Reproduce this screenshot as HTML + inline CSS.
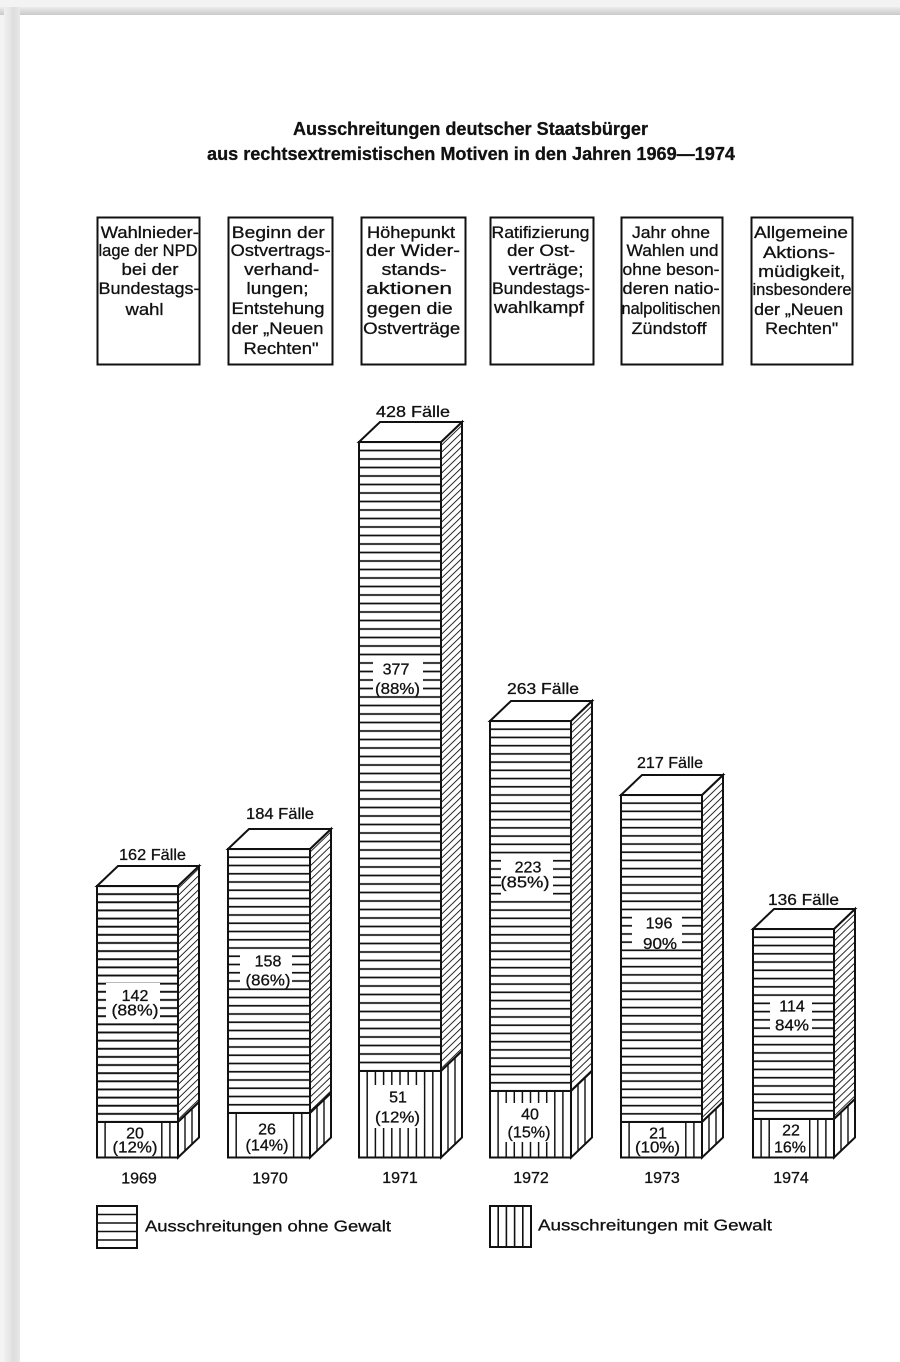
<!DOCTYPE html>
<html><head><meta charset="utf-8"><style>
html,body{margin:0;padding:0;background:#f2f2f2;}
svg{display:block;}
text{font-family:"Liberation Sans",Arial,sans-serif;fill:#111;stroke:#111;stroke-width:0.3;}
</style></head><body>
<svg width="900" height="1362" viewBox="0 0 900 1362" xmlns="http://www.w3.org/2000/svg">
<defs>
<linearGradient id="tg" x1="0" y1="0" x2="0" y2="1"><stop offset="0" stop-color="#ececec"/><stop offset="1" stop-color="#c9c9c9"/></linearGradient>
<linearGradient id="lg" x1="0" y1="0" x2="1" y2="0"><stop offset="0" stop-color="#f0f0f0"/><stop offset="0.6" stop-color="#dedede"/><stop offset="1" stop-color="#e8e8e8"/></linearGradient>
<pattern id="dg" patternUnits="userSpaceOnUse" width="20" height="7" patternTransform="skewY(-44)"><rect width="20" height="7" fill="#fff"/><line x1="0" y1="3.5" x2="20" y2="3.5" stroke="#111" stroke-width="1.3"/></pattern>
<pattern id="hz1" patternUnits="userSpaceOnUse" x="0" y="881.931" width="20" height="8.138"><rect width="20" height="8.138" fill="#fff"/><line x1="0" y1="4.069" x2="20" y2="4.069" stroke="#111" stroke-width="1.8"/></pattern>
<pattern id="hz2" patternUnits="userSpaceOnUse" x="0" y="844.875" width="20" height="8.25"><rect width="20" height="8.25" fill="#fff"/><line x1="0" y1="4.125" x2="20" y2="4.125" stroke="#111" stroke-width="1.8"/></pattern>
<pattern id="hz3" patternUnits="userSpaceOnUse" x="0" y="437.75" width="20" height="8.5"><rect width="20" height="8.5" fill="#fff"/><line x1="0" y1="4.25" x2="20" y2="4.25" stroke="#111" stroke-width="1.8"/></pattern>
<pattern id="hz4" patternUnits="userSpaceOnUse" x="0" y="716.889" width="20" height="8.222"><rect width="20" height="8.222" fill="#fff"/><line x1="0" y1="4.111" x2="20" y2="4.111" stroke="#111" stroke-width="1.8"/></pattern>
<pattern id="hz5" patternUnits="userSpaceOnUse" x="0" y="790.9125" width="20" height="8.175"><rect width="20" height="8.175" fill="#fff"/><line x1="0" y1="4.0875" x2="20" y2="4.0875" stroke="#111" stroke-width="1.8"/></pattern>
<pattern id="hz6" patternUnits="userSpaceOnUse" x="0" y="924.870" width="20" height="8.261"><rect width="20" height="8.261" fill="#fff"/><line x1="0" y1="4.130" x2="20" y2="4.130" stroke="#111" stroke-width="1.8"/></pattern>
<pattern id="vt1" patternUnits="userSpaceOnUse" x="92.95" y="0" width="8.1" height="20"><rect width="8.1" height="20" fill="#fff"/><line x1="4.05" y1="0" x2="4.05" y2="20" stroke="#111" stroke-width="1.5"/></pattern>
<pattern id="vt2" patternUnits="userSpaceOnUse" x="223.9" y="0" width="8.2" height="20"><rect width="8.2" height="20" fill="#fff"/><line x1="4.1" y1="0" x2="4.1" y2="20" stroke="#111" stroke-width="1.5"/></pattern>
<pattern id="vt3" patternUnits="userSpaceOnUse" x="354.9" y="0" width="8.2" height="20"><rect width="8.2" height="20" fill="#fff"/><line x1="4.1" y1="0" x2="4.1" y2="20" stroke="#111" stroke-width="1.5"/></pattern>
<pattern id="vt4" patternUnits="userSpaceOnUse" x="485.95" y="0" width="8.1" height="20"><rect width="8.1" height="20" fill="#fff"/><line x1="4.05" y1="0" x2="4.05" y2="20" stroke="#111" stroke-width="1.5"/></pattern>
<pattern id="vt5" patternUnits="userSpaceOnUse" x="616.95" y="0" width="8.1" height="20"><rect width="8.1" height="20" fill="#fff"/><line x1="4.05" y1="0" x2="4.05" y2="20" stroke="#111" stroke-width="1.5"/></pattern>
<pattern id="vt6" patternUnits="userSpaceOnUse" x="748.95" y="0" width="8.1" height="20"><rect width="8.1" height="20" fill="#fff"/><line x1="4.05" y1="0" x2="4.05" y2="20" stroke="#111" stroke-width="1.5"/></pattern>
</defs>

<!-- page frame -->
<rect x="0" y="0" width="900" height="1362" fill="#f3f3f3"/>
<rect x="0" y="7" width="900" height="8" fill="url(#tg)"/>
<rect x="4" y="7" width="16" height="1355" fill="url(#lg)"/>
<rect x="20" y="15" width="880" height="1347" fill="#fff"/>

<!-- title -->
<text x="470.5" y="135" text-anchor="middle" font-size="18" font-weight="bold" textLength="355" lengthAdjust="spacingAndGlyphs">Ausschreitungen deutscher Staatsbürger</text>
<text x="471" y="160" text-anchor="middle" font-size="18" font-weight="bold" textLength="528" lengthAdjust="spacingAndGlyphs">aus rechtsextremistischen Motiven in den Jahren 1969—1974</text>

<!-- boxes -->
<g fill="none" stroke="#111" stroke-width="2">
<rect x="97.5" y="217.5" width="102" height="147"/>
<rect x="228.5" y="217.5" width="104" height="147"/>
<rect x="361.5" y="217.5" width="104" height="147"/>
<rect x="490.5" y="217.5" width="103" height="147"/>
<rect x="621.5" y="217.5" width="101" height="147"/>
<rect x="751.5" y="217.5" width="101" height="147"/>
</g>
<g font-size="16.5" text-anchor="middle">
<text x="149.8" y="238" textLength="98" lengthAdjust="spacingAndGlyphs">Wahlnieder-</text>
<text x="148" y="256" textLength="99" lengthAdjust="spacingAndGlyphs">lage der NPD</text>
<text x="150" y="275" textLength="57" lengthAdjust="spacingAndGlyphs">bei der</text>
<text x="149" y="294" textLength="101" lengthAdjust="spacingAndGlyphs">Bundestags-</text>
<text x="144.5" y="315" textLength="38" lengthAdjust="spacingAndGlyphs">wahl</text>

<text x="278.3" y="238" textLength="93" lengthAdjust="spacingAndGlyphs">Beginn der</text>
<text x="280.7" y="256" textLength="100" lengthAdjust="spacingAndGlyphs">Ostvertrags-</text>
<text x="281.7" y="275" textLength="75" lengthAdjust="spacingAndGlyphs">verhand-</text>
<text x="277.5" y="294" textLength="62" lengthAdjust="spacingAndGlyphs">lungen;</text>
<text x="278" y="314" textLength="93" lengthAdjust="spacingAndGlyphs">Entstehung</text>
<text x="277.5" y="334" textLength="92" lengthAdjust="spacingAndGlyphs">der „Neuen</text>
<text x="281" y="354" textLength="75" lengthAdjust="spacingAndGlyphs">Rechten"</text>

<text x="411" y="238" textLength="88" lengthAdjust="spacingAndGlyphs">Höhepunkt</text>
<text x="413" y="256" textLength="94" lengthAdjust="spacingAndGlyphs">der Wider-</text>
<text x="414" y="275" textLength="65" lengthAdjust="spacingAndGlyphs">stands-</text>
<text x="409" y="294" textLength="86" lengthAdjust="spacingAndGlyphs">aktionen</text>
<text x="409.7" y="314" textLength="86" lengthAdjust="spacingAndGlyphs">gegen die</text>
<text x="411.7" y="334" textLength="97" lengthAdjust="spacingAndGlyphs">Ostverträge</text>

<text x="540.5" y="238" textLength="98" lengthAdjust="spacingAndGlyphs">Ratifizierung</text>
<text x="541" y="256" textLength="68" lengthAdjust="spacingAndGlyphs">der Ost-</text>
<text x="546" y="275" textLength="75" lengthAdjust="spacingAndGlyphs">verträge;</text>
<text x="541" y="294" textLength="98" lengthAdjust="spacingAndGlyphs">Bundestags-</text>
<text x="539" y="313" textLength="90" lengthAdjust="spacingAndGlyphs">wahlkampf</text>

<text x="671" y="238" textLength="78" lengthAdjust="spacingAndGlyphs">Jahr ohne</text>
<text x="672.5" y="256" textLength="92" lengthAdjust="spacingAndGlyphs">Wahlen und</text>
<text x="671" y="275" textLength="97" lengthAdjust="spacingAndGlyphs">ohne beson-</text>
<text x="671" y="294" textLength="97" lengthAdjust="spacingAndGlyphs">deren natio-</text>
<text x="671" y="314" textLength="99" lengthAdjust="spacingAndGlyphs">nalpolitischen</text>
<text x="669" y="334" textLength="75" lengthAdjust="spacingAndGlyphs">Zündstoff</text>

<text x="801" y="238" textLength="94" lengthAdjust="spacingAndGlyphs">Allgemeine</text>
<text x="799" y="258" textLength="72" lengthAdjust="spacingAndGlyphs">Aktions-</text>
<text x="801.7" y="277" textLength="87" lengthAdjust="spacingAndGlyphs">müdigkeit,</text>
<text x="802" y="295" textLength="99" lengthAdjust="spacingAndGlyphs">insbesondere</text>
<text x="798.7" y="315" textLength="89" lengthAdjust="spacingAndGlyphs">der „Neuen</text>
<text x="801.7" y="334" textLength="73" lengthAdjust="spacingAndGlyphs">Rechten"</text>
</g>

<!-- ===== BARS ===== -->
<g stroke="#111" stroke-linejoin="miter">
<!-- Bar 1 -->
<rect x="97" y="886" width="81" height="236" fill="url(#hz1)" stroke="none"/>
<rect x="97" y="1122" width="81" height="35.5" fill="url(#vt1)" stroke="none"/>
<rect x="106" y="983" width="54" height="36" fill="#fff" stroke="none"/>
<rect x="106" y="1123" width="55" height="34" fill="#fff" stroke="none"/>
<polygon points="178,886 199,866 199,1102 178,1122" fill="url(#dg)" stroke-width="2"/>
<polygon points="178,1122 199,1102 199,1137.5 178,1157.5" fill="#fff" stroke-width="2"/>
<line x1="185" y1="1115.3" x2="185" y2="1150.8" stroke-width="1.4"/>
<line x1="192" y1="1108.7" x2="192" y2="1144.2" stroke-width="1.4"/>
<polygon points="97,886 118,866 199,866 178,886" fill="#fff" stroke-width="2"/>
<rect x="97" y="886" width="81" height="271.5" fill="none" stroke-width="2"/>
<line x1="97" y1="1122" x2="178" y2="1122" stroke-width="2"/>

<!-- Bar 2 -->
<rect x="228" y="849" width="82" height="264" fill="url(#hz2)" stroke="none"/>
<rect x="228" y="1113" width="82" height="44.5" fill="url(#vt2)" stroke="none"/>
<rect x="240" y="950" width="52" height="37" fill="#fff" stroke="none"/>
<rect x="237.2" y="1114" width="55.4" height="43" fill="#fff" stroke="none"/>
<polygon points="310,849 331,829 331,1093 310,1113" fill="url(#dg)" stroke-width="2"/>
<polygon points="310,1113 331,1093 331,1137.5 310,1157.5" fill="#fff" stroke-width="2"/>
<line x1="317" y1="1106.3" x2="317" y2="1150.8" stroke-width="1.4"/>
<line x1="324" y1="1099.7" x2="324" y2="1144.2" stroke-width="1.4"/>
<polygon points="228,849 249,829 331,829 310,849" fill="#fff" stroke-width="2"/>
<rect x="228" y="849" width="82" height="308.5" fill="none" stroke-width="2"/>
<line x1="228" y1="1113" x2="310" y2="1113" stroke-width="2"/>

<!-- Bar 3 -->
<rect x="359" y="442" width="82" height="629" fill="url(#hz3)" stroke="none"/>
<rect x="359" y="1071" width="82" height="86.5" fill="url(#vt3)" stroke="none"/>
<rect x="373" y="656" width="50" height="39" fill="#fff" stroke="none"/>
<rect x="368.2" y="1085" width="55.4" height="43" fill="#fff" stroke="none"/>
<polygon points="441,442 462,422 462,1051 441,1071" fill="url(#dg)" stroke-width="2"/>
<polygon points="441,1071 462,1051 462,1137.5 441,1157.5" fill="#fff" stroke-width="2"/>
<line x1="448" y1="1064.3" x2="448" y2="1150.8" stroke-width="1.4"/>
<line x1="455" y1="1057.7" x2="455" y2="1144.2" stroke-width="1.4"/>
<polygon points="359,442 380,422 462,422 441,442" fill="#fff" stroke-width="2"/>
<rect x="359" y="442" width="82" height="715.5" fill="none" stroke-width="2"/>
<line x1="359" y1="1071" x2="441" y2="1071" stroke-width="2"/>

<!-- Bar 4 -->
<rect x="490" y="721" width="81" height="370" fill="url(#hz4)" stroke="none"/>
<rect x="490" y="1091" width="81" height="66.5" fill="url(#vt4)" stroke="none"/>
<rect x="501" y="857" width="52" height="39" fill="#fff" stroke="none"/>
<rect x="499" y="1103" width="55" height="39" fill="#fff" stroke="none"/>
<polygon points="571,721 592,701 592,1071 571,1091" fill="url(#dg)" stroke-width="2"/>
<polygon points="571,1091 592,1071 592,1137.5 571,1157.5" fill="#fff" stroke-width="2"/>
<line x1="578" y1="1084.3" x2="578" y2="1150.8" stroke-width="1.4"/>
<line x1="585" y1="1077.7" x2="585" y2="1144.2" stroke-width="1.4"/>
<polygon points="490,721 511,701 592,701 571,721" fill="#fff" stroke-width="2"/>
<rect x="490" y="721" width="81" height="436.5" fill="none" stroke-width="2"/>
<line x1="490" y1="1091" x2="571" y2="1091" stroke-width="2"/>

<!-- Bar 5 -->
<rect x="621" y="795" width="81" height="327" fill="url(#hz5)" stroke="none"/>
<rect x="621" y="1122" width="81" height="35.5" fill="url(#vt5)" stroke="none"/>
<rect x="632" y="914" width="50" height="34" fill="#fff" stroke="none"/>
<rect x="630" y="1123" width="55" height="34" fill="#fff" stroke="none"/>
<polygon points="702,795 723,775 723,1102 702,1122" fill="url(#dg)" stroke-width="2"/>
<polygon points="702,1122 723,1102 723,1137.5 702,1157.5" fill="#fff" stroke-width="2"/>
<line x1="709" y1="1115.3" x2="709" y2="1150.8" stroke-width="1.4"/>
<line x1="716" y1="1108.7" x2="716" y2="1144.2" stroke-width="1.4"/>
<polygon points="621,795 642,775 723,775 702,795" fill="#fff" stroke-width="2"/>
<rect x="621" y="795" width="81" height="362.5" fill="none" stroke-width="2"/>
<line x1="621" y1="1122" x2="702" y2="1122" stroke-width="2"/>

<!-- Bar 6 -->
<rect x="753" y="929" width="81" height="190" fill="url(#hz6)" stroke="none"/>
<rect x="753" y="1119" width="81" height="38.5" fill="url(#vt6)" stroke="none"/>
<rect x="770" y="999" width="42" height="33" fill="#fff" stroke="none"/>
<rect x="770" y="1120" width="39" height="37" fill="#fff" stroke="none"/>
<polygon points="834,929 855,909 855,1099 834,1119" fill="url(#dg)" stroke-width="2"/>
<polygon points="834,1119 855,1099 855,1137.5 834,1157.5" fill="#fff" stroke-width="2"/>
<line x1="841" y1="1112.3" x2="841" y2="1150.8" stroke-width="1.4"/>
<line x1="848" y1="1105.7" x2="848" y2="1144.2" stroke-width="1.4"/>
<polygon points="753,929 774,909 855,909 834,929" fill="#fff" stroke-width="2"/>
<rect x="753" y="929" width="81" height="228.5" fill="none" stroke-width="2"/>
<line x1="753" y1="1119" x2="834" y2="1119" stroke-width="2"/>
</g>

<!-- bar top labels -->
<g font-size="16" text-anchor="middle">
<text x="152.5" y="860" textLength="67" lengthAdjust="spacingAndGlyphs">162 Fälle</text>
<text x="280" y="819" textLength="68" lengthAdjust="spacingAndGlyphs">184 Fälle</text>
<text x="413" y="417" textLength="74" lengthAdjust="spacingAndGlyphs">428 Fälle</text>
<text x="543" y="694" textLength="72" lengthAdjust="spacingAndGlyphs">263 Fälle</text>
<text x="670" y="768" textLength="66" lengthAdjust="spacingAndGlyphs">217 Fälle</text>
<text x="803.5" y="905" textLength="71" lengthAdjust="spacingAndGlyphs">136 Fälle</text>
</g>

<!-- inner labels -->
<g font-size="16" text-anchor="middle">
<text x="135" y="1001">142</text>
<text x="135" y="1015.5" textLength="47" lengthAdjust="spacingAndGlyphs">(88%)</text>
<text x="268" y="966.5">158</text>
<text x="268" y="985.5" textLength="45" lengthAdjust="spacingAndGlyphs">(86%)</text>
<text x="396" y="674.5">377</text>
<text x="397.5" y="694" textLength="45" lengthAdjust="spacingAndGlyphs">(88%)</text>
<text x="528" y="872.5">223</text>
<text x="525" y="887.5" textLength="49" lengthAdjust="spacingAndGlyphs">(85%)</text>
<text x="659" y="928.5">196</text>
<text x="660" y="949" textLength="34" lengthAdjust="spacingAndGlyphs">90%</text>
<text x="792" y="1011.5">114</text>
<text x="792" y="1030.5" textLength="34" lengthAdjust="spacingAndGlyphs">84%</text>

<text x="135" y="1138.5">20</text>
<text x="135" y="1152.5" textLength="45" lengthAdjust="spacingAndGlyphs">(12%)</text>
<text x="267" y="1134.5">26</text>
<text x="267" y="1150.5" textLength="43" lengthAdjust="spacingAndGlyphs">(14%)</text>
<text x="398" y="1102.5">51</text>
<text x="397.5" y="1122.5" textLength="45" lengthAdjust="spacingAndGlyphs">(12%)</text>
<text x="530" y="1119.5">40</text>
<text x="529" y="1137.5" textLength="43" lengthAdjust="spacingAndGlyphs">(15%)</text>
<text x="658" y="1138.5">21</text>
<text x="657.5" y="1152.5" textLength="45" lengthAdjust="spacingAndGlyphs">(10%)</text>
<text x="791" y="1135.5">22</text>
<text x="790" y="1152.5" textLength="32" lengthAdjust="spacingAndGlyphs">16%</text>
</g>

<!-- years -->
<g font-size="16" text-anchor="middle">
<text x="139" y="1183.5">1969</text>
<text x="270" y="1183.5">1970</text>
<text x="400" y="1183">1971</text>
<text x="531" y="1183">1972</text>
<text x="662" y="1183">1973</text>
<text x="791" y="1183">1974</text>
</g>

<!-- legend -->
<g stroke="#111" fill="none">
<rect x="97" y="1206" width="40" height="42" fill="#fff" stroke-width="2"/>
<line x1="97" y1="1214.5" x2="137" y2="1214.5" stroke-width="1.6"/>
<line x1="97" y1="1223" x2="137" y2="1223" stroke-width="1.6"/>
<line x1="97" y1="1231.5" x2="137" y2="1231.5" stroke-width="1.6"/>
<line x1="97" y1="1240" x2="137" y2="1240" stroke-width="1.6"/>
<rect x="490" y="1206" width="41" height="41" fill="#fff" stroke-width="2"/>
<line x1="498.2" y1="1206" x2="498.2" y2="1247" stroke-width="1.6"/>
<line x1="506.4" y1="1206" x2="506.4" y2="1247" stroke-width="1.6"/>
<line x1="514.6" y1="1206" x2="514.6" y2="1247" stroke-width="1.6"/>
<line x1="522.8" y1="1206" x2="522.8" y2="1247" stroke-width="1.6"/>
</g>
<text x="145" y="1231.5" font-size="16" textLength="246" lengthAdjust="spacingAndGlyphs">Ausschreitungen ohne Gewalt</text>
<text x="538" y="1230.5" font-size="16" textLength="234" lengthAdjust="spacingAndGlyphs">Ausschreitungen mit Gewalt</text>
</svg>
</body></html>
